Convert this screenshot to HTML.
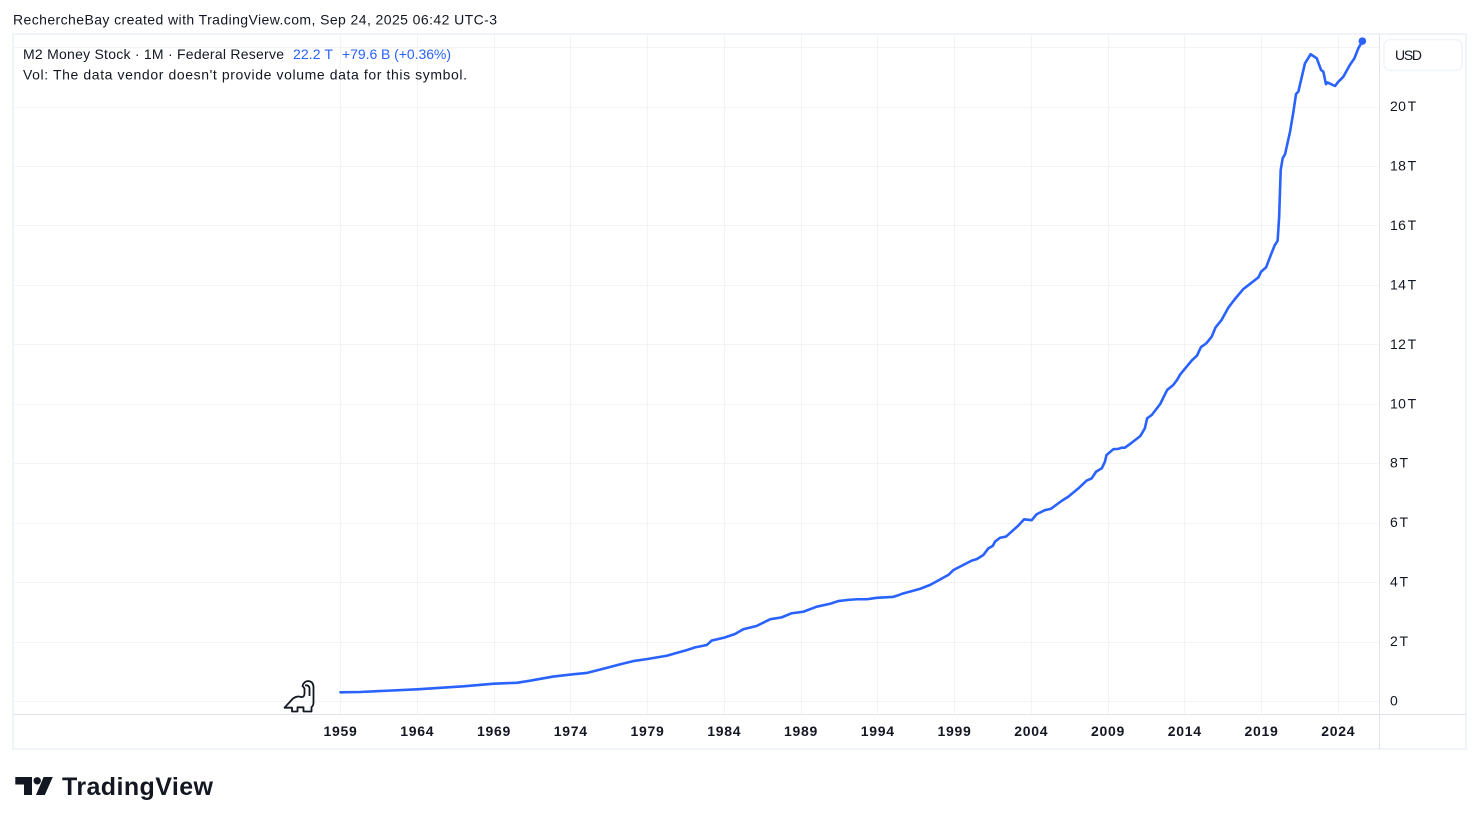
<!DOCTYPE html>
<html lang="en">
<head>
<meta charset="utf-8">
<title>M2 Money Stock chart</title>
<style>
html,body{margin:0;padding:0;background:#fff;width:1479px;height:824px;overflow:hidden}
svg{display:block;font-family:"Liberation Sans",sans-serif}
text{fill:#131722;font-size:14px}
</style>
</head>
<body>
<svg id="chart" width="1479" height="824" viewBox="0 0 1479 824" xmlns="http://www.w3.org/2000/svg">
  <rect x="0" y="0" width="1479" height="824" fill="#ffffff"/>
  <text x="13" y="24.5" textLength="484" lengthAdjust="spacing">RechercheBay created with TradingView.com, Sep 24, 2025 06:42 UTC-3</text>
  <g id="grid"></g>
  <rect x="13" y="34" width="1453" height="715" fill="none" stroke="#f0f3fa" stroke-width="2"/>
  <line x1="1379.5" y1="34" x2="1379.5" y2="749" stroke="#e0e3eb" stroke-width="1"/>
  <line x1="13" y1="714.5" x2="1466" y2="714.5" stroke="#e0e3eb" stroke-width="1"/>
  <g id="series"></g>
  <g id="yLabels"></g>
  <g id="xLabels"></g>
  <g>
    <text x="23" y="59" textLength="261" lengthAdjust="spacing">M2 Money Stock · 1M · Federal Reserve</text>
    <text x="293" y="59" textLength="40" lengthAdjust="spacing" style="fill:#2962ff">22.2 T</text>
    <text x="342" y="59" textLength="109" lengthAdjust="spacing" style="fill:#2962ff">+79.6 B (+0.36%)</text>
    <text x="23" y="79.5" textLength="444" lengthAdjust="spacing">Vol: The data vendor doesn't provide volume data for this symbol.</text>
  </g>
  <g>
    <rect x="1384" y="39.5" width="78" height="31" rx="6" fill="#ffffff" stroke="#f0f3fa" stroke-width="1.5"/>
    <text x="1395" y="60" textLength="27" lengthAdjust="spacing">USD</text>
  </g>
  <path d="M284.5 707.7 L293 698.5 Q297 695.5 301 697 Q304 697.5 304.5 694 L304.5 688.5 Q303.5 687 302.5 686 Q304 681 308.5 681 Q313 681.5 313.5 686.5 L313.5 702 Q313.5 706 311.5 707 L311.5 711.5 L303.5 711.5 L303.5 707.3 L297.5 707.3 L297.5 711.5 L292 711.5 L292 707.7 Z M305 685.5 Q308.5 684.5 309.5 688 L309.5 696" fill="none" stroke="#131722" stroke-width="1.8" stroke-linejoin="round"/>
  <g>
    <path d="M15.3 777 H32 V795 H24 V784.5 H15.3 Z M36 795 L43.6 777 H52.8 L44.8 795 Z" fill="#131722"/>
    <circle cx="37.2" cy="780.8" r="3.7" fill="#131722"/>
    <text x="62" y="795" textLength="151" lengthAdjust="spacing" style="font-size:25px;font-weight:700">TradingView</text>
  </g>
</svg>
<script>
var yearTicks = [1959,1964,1969,1974,1979,1984,1989,1994,1999,2004,2009,2014,2019,2024];
var priceTicks = [0,2,4,6,8,10,12,14,16,18,20,22];
var priceTickLabels = ["0","2 T","4 T","6 T","8 T","10 T","12 T","14 T","16 T","18 T","20 T",""];
var dates = [1959,1960.27,1964,1967,1969,1970.48,1971.35,1972.86,1974.06,1975.04,1976.34,1977.2,1978.07,1979,1980.25,1981.55,1982.1,1982.86,1983.18,1984,1984.7,1985.24,1986.1,1987,1987.74,1988.4,1989.15,1990.02,1990.9,1991.43,1992.1,1992.63,1993.3,1993.93,1995,1995.36,1995.56,1996.75,1997.4,1997.94,1998.6,1998.92,2000.12,2000.45,2000.88,2001.2,2001.5,2001.64,2001.97,2002.36,2003.16,2003.53,2004.03,2004.35,2004.9,2005.27,2005.98,2006.41,2007.07,2007.6,2007.94,2008.22,2008.6,2008.8,2008.9,2009.35,2009.67,2009.9,2010.1,2010.55,2011.1,2011.4,2011.55,2011.85,2012.4,2012.85,2013.25,2013.5,2013.7,2014,2014.45,2014.8,2015.05,2015.4,2015.75,2016,2016.4,2016.85,2017.25,2017.8,2018.25,2018.8,2018.97,2019.3,2019.65,2019.85,2020.05,2020.15,2020.25,2020.38,2020.53,2020.86,2021.08,2021.25,2021.4,2021.83,2022.2,2022.6,2022.88,2023.03,2023.2,2023.29,2023.79,2024,2024.33,2024.76,2025.05,2025.31,2025.57];
var m2Values = [0.31,0.32,0.41,0.51,0.6,0.63,0.7,0.84,0.91,0.96,1.13,1.25,1.36,1.43,1.54,1.73,1.82,1.9,2.05,2.15,2.27,2.43,2.54,2.77,2.83,2.97,3.02,3.19,3.29,3.38,3.42,3.44,3.44,3.49,3.52,3.58,3.62,3.79,3.92,4.07,4.26,4.42,4.74,4.79,4.93,5.15,5.24,5.38,5.51,5.55,5.92,6.13,6.1,6.3,6.44,6.48,6.75,6.89,7.17,7.43,7.51,7.73,7.85,8.07,8.29,8.49,8.5,8.54,8.54,8.71,8.93,9.19,9.53,9.64,10.01,10.48,10.65,10.82,11,11.19,11.47,11.64,11.92,12.05,12.27,12.58,12.84,13.26,13.53,13.87,14.05,14.27,14.46,14.61,15.08,15.34,15.5,16.31,17.88,18.28,18.41,19.17,19.85,20.44,20.52,21.47,21.78,21.64,21.25,21.19,20.77,20.83,20.71,20.85,21.02,21.42,21.64,21.98,22.22];

var NS = 'http://www.w3.org/2000/svg';
function xScale(year){ return 340.5 + (year - 1959) * 15.35; }
function yScale(value){ return 701.5 - value * 29.72; }
function make(tag, attrs){
  var el = document.createElementNS(NS, tag);
  for (var k in attrs) el.setAttribute(k, attrs[k]);
  return el;
}
var grid = document.getElementById('grid');
var series = document.getElementById('series');
var yLabels = document.getElementById('yLabels');
var xLabels = document.getElementById('xLabels');

yearTicks.forEach(function(year){
  var x = Math.floor(xScale(year)) + 0.5;
  var line = make('line', {x1:x, y1:34, x2:x, y2:714, stroke:'#f3f4f6', 'stroke-width':1});
  
  
  grid.appendChild(line);
  var label = make('text', {x:xScale(year), y:736, 'text-anchor':'middle'});
  
  
  label.setAttribute('style', 'font-weight:700;letter-spacing:.7px');
  label.textContent = String(year);
  xLabels.appendChild(label);
});

priceTicks.forEach(function(value, i){
  var y = Math.floor(yScale(value)) + 0.5;
  var line = make('line', {x1:13, y1:y, x2:1379, y2:y, stroke:'#f3f4f6', 'stroke-width':1});
  
  
  grid.appendChild(line);
  if (priceTickLabels[i]) {
    var label = make('text', {x:1390, y:yScale(value) + 4});
    
    
    label.setAttribute('style', 'letter-spacing:.3px;word-spacing:-2.5px');
    label.textContent = priceTickLabels[i];
    yLabels.appendChild(label);
  }
});

var d = dates.map(function(year, i){
  return (i ? 'L' : 'M') + xScale(year).toFixed(2) + ' ' + yScale(m2Values[i]).toFixed(2);
}).join(' ');
var path = make('path', {d:d, fill:'none', stroke:'#2962ff', 'stroke-width':2.6, 'stroke-linejoin':'round', 'stroke-linecap':'round'});


series.appendChild(path);

var lastIndex = dates.length - 1;
var dot = make('circle', {cx:xScale(dates[lastIndex]), cy:yScale(m2Values[lastIndex]), r:3.8, fill:'#2962ff'});


series.appendChild(dot);
</script>
</body>
</html>
